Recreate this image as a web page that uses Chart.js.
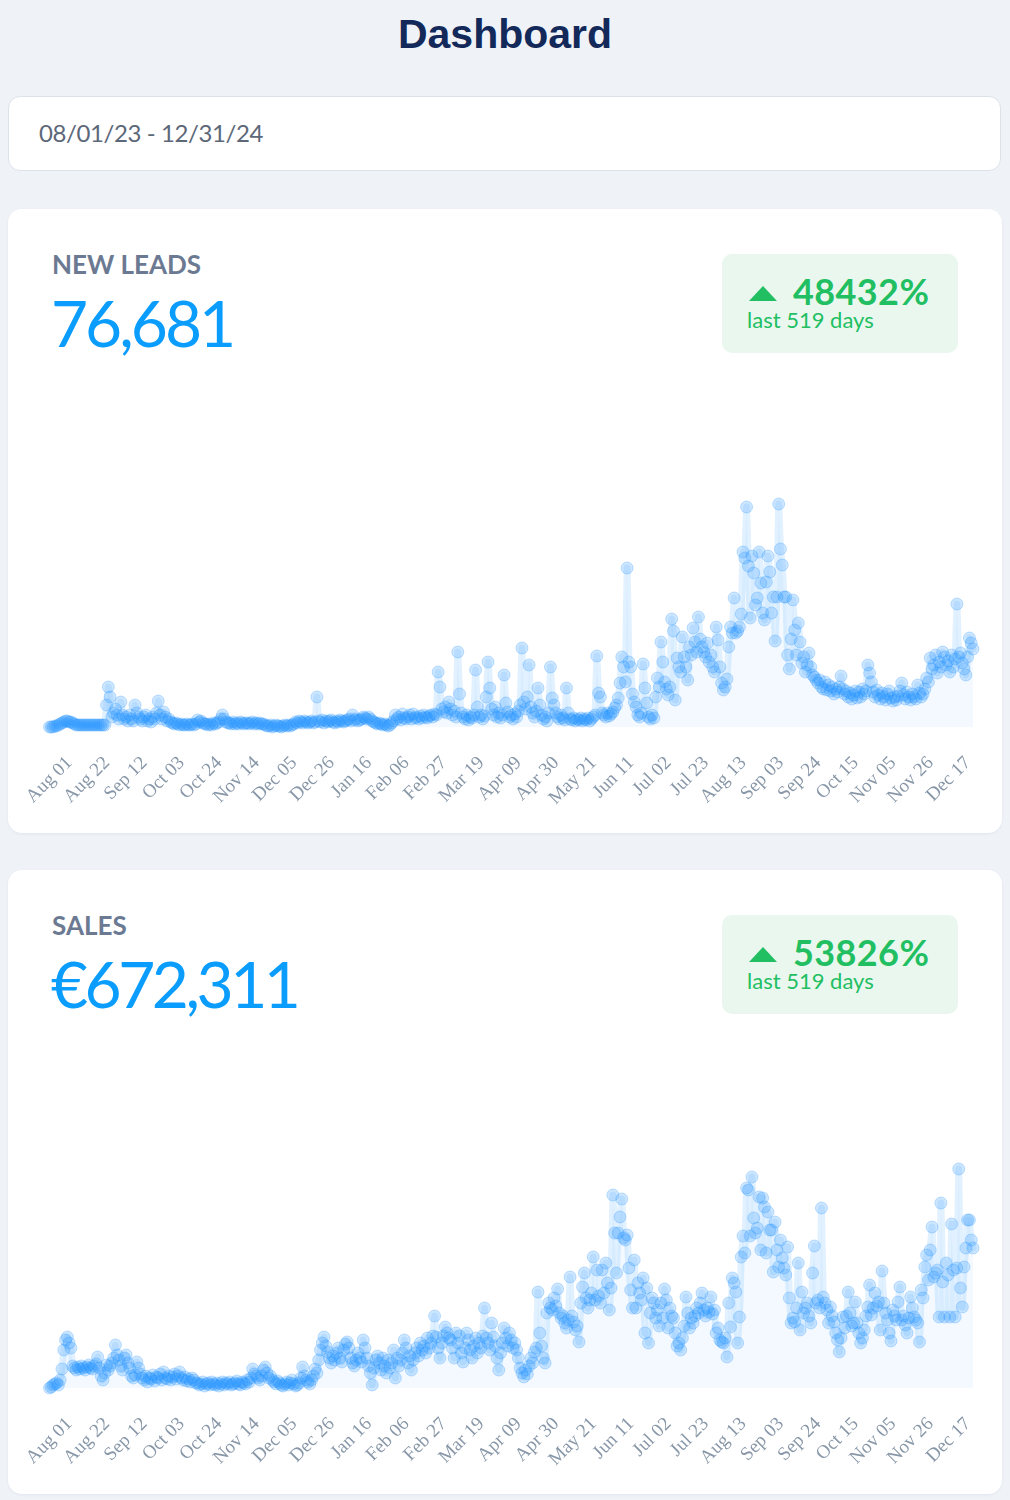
<!DOCTYPE html>
<html>
<head>
<meta charset="utf-8">
<script src="https://cdn.jsdelivr.net/npm/chart.js@4.4.0/dist/chart.umd.min.js"></script>
<style>
  body { margin:0; width:1010px; height:1500px; background:#eff3f8; position:relative; overflow:hidden; font-family:Lato, "Open Sans", sans-serif; }
  h1 { position:absolute; left:0; top:14px; width:1010px; margin:0; text-align:center; font:bold 41px/41px "Liberation Sans", Arial, sans-serif; color:#13295a; }
  .range { position:absolute; left:8px; top:96px; width:991px; height:73px; background:#fff; border:1px solid #dde2ea; border-radius:12px; }
  .range span { position:absolute; left:30px; top:24px; font-size:24px; line-height:24px; color:#5c6879; letter-spacing:-0.4px; }
  .card { position:absolute; left:8px; width:994px; height:624px; background:#fff; border-radius:14px; box-shadow:0 1px 3px rgba(20,40,80,0.06); }
  .card .title { position:absolute; left:44px; top:42px; font-size:26px; line-height:26px; font-weight:700; color:#6b7a92; }
  .card .kpi { position:absolute; left:43px; top:82px; font-size:64px; line-height:64px; color:#0b9dfd; letter-spacing:-3px; }
  .badge { position:absolute; left:714px; top:45px; width:236px; height:99px; background:#eaf7ef; border-radius:10px; color:#21bf62; }
  .badge .tri { position:absolute; left:27px; top:32px; width:0; height:0; border-left:14px solid transparent; border-right:14px solid transparent; border-bottom:15px solid #21bf62; }
  .badge .pct { position:absolute; left:71px; top:19px; font-size:36px; line-height:36px; font-weight:700; letter-spacing:0.4px; }
  .badge .sub { position:absolute; left:25px; top:55px; font-size:22px; line-height:22px; }
  .card canvas { position:absolute; left:0; top:250px; }
</style>
</head>
<body>
<h1>Dashboard</h1>
<div class="range"><span>08/01/23 - 12/31/24</span></div>

<div class="card" style="top:209px">
  <div class="title">NEW LEADS</div>
  <div class="kpi">76,681</div>
  <div class="badge"><div class="tri"></div><div class="pct">48432%</div><div class="sub">last 519 days</div></div>
  <canvas id="leadsChart" width="994" height="368"></canvas>
</div>

<div class="card" style="top:870px">
  <div class="title">SALES</div>
  <div class="kpi" style="letter-spacing:-3.5px">€672,311</div>
  <div class="badge"><div class="tri"></div><div class="pct">53826%</div><div class="sub">last 519 days</div></div>
  <canvas id="salesChart" width="994" height="368"></canvas>
</div>

<script>
const MONTHS = ['Jan','Feb','Mar','Apr','May','Jun','Jul','Aug','Sep','Oct','Nov','Dec'];
const startDay = [2023, 7, 1]; // Aug 01 2023
const dayCount = 519;
const tickEvery = 21;
const yMax = 247;

// daily new leads (hidden axis units)
const leads = [
  0,0,0,1,1,2,3,4,5,6,
  6,5,5,4,3,2,2,2,2,2,
  2,2,2,2,2,2,2,2,2,2,
  2,2,22,40,30,10,14,18,12,8,
  25,12,8,10,6,12,8,6,22,14,
  10,8,6,10,12,6,8,5,10,8,
  14,26,12,8,15,10,6,8,5,4,
  3,4,3,2,3,2,2,3,2,2,
  3,2,3,7,5,6,4,3,3,2,
  3,2,4,3,4,5,8,12,8,5,
  4,4,3,5,3,4,3,5,4,3,
  4,4,3,4,5,3,4,3,4,3,
  3,2,1,1,2,0,1,2,1,1,
  0,1,2,1,2,1,2,3,5,4,
  6,5,4,6,5,4,5,6,4,5,
  30,6,5,7,4,6,5,6,7,5,
  4,6,5,7,6,5,6,7,8,6,
  12,7,8,6,7,8,10,9,8,10,
  8,6,5,4,3,4,3,2,3,2,
  1,2,4,6,12,8,10,7,13,9,
  8,10,12,8,13,9,10,8,11,9,
  12,10,9,11,12,10,13,12,55,40,
  18,15,20,14,25,18,12,16,10,75,
  33,14,10,8,12,7,10,9,12,57,
  20,10,12,8,11,30,65,39,18,12,
  20,10,14,9,12,52,24,15,10,12,
  8,13,10,16,22,79,25,18,30,62,
  20,14,10,16,39,22,12,8,10,6,
  14,60,29,22,14,10,8,12,9,7,
  39,14,8,7,9,6,8,7,9,6,
  8,7,9,6,8,10,12,71,34,30,
  14,12,10,14,11,13,15,19,22,29,
  44,70,60,45,159,65,60,33,25,20,
  12,10,14,63,39,24,10,8,12,9,
  30,49,40,85,65,45,38,32,40,108,
  96,27,69,60,55,90,70,60,47,80,
  72,99,85,75,110,88,80,75,70,84,
  65,72,60,55,100,87,60,44,37,40,
  48,80,100,94,129,94,96,100,113,175,
  169,220,161,109,171,154,122,129,175,144,
  114,107,145,171,155,114,130,86,130,223,
  178,162,130,130,72,58,88,127,97,72,
  104,85,64,70,55,62,74,60,52,50,
  47,44,47,40,38,45,37,42,36,40,
  33,38,35,40,51,38,33,36,30,34,
  28,32,36,29,35,30,38,33,36,62,
  54,45,35,30,37,32,28,34,30,27,
  33,36,29,26,30,27,31,36,44,32,
  28,35,30,27,33,30,28,42,34,30,
  33,38,49,45,69,58,62,72,54,65,
  60,75,70,62,66,55,72,60,68,123,
  70,74,64,58,52,70,89,84,78
];

// daily sales (hidden axis units)
const sales = [
  0,1,3,4,5,3,8,19,38,48,
  51,45,40,22,20,18,21,19,22,20,
  18,21,23,20,19,22,24,31,20,12,
  8,15,23,18,22,25,30,43,33,28,
  22,18,30,33,25,20,12,10,13,26,
  20,14,10,8,12,6,10,9,13,7,
  11,10,14,8,16,10,9,12,8,11,
  14,9,12,16,10,8,11,7,9,6,
  10,8,5,5,3,4,6,2,4,5,
  3,6,4,3,5,2,4,6,3,5,
  4,6,3,4,5,7,4,3,6,5,
  4,8,6,10,19,14,12,10,8,12,
  18,21,15,10,12,8,6,4,7,5,
  3,2,4,6,3,5,8,4,2,3,
  5,10,21,12,8,6,4,8,12,19,
  15,28,38,45,51,42,36,30,25,32,
  28,35,40,30,26,38,44,46,40,30,
  25,22,28,35,30,26,48,40,30,22,
  15,3,20,28,32,25,18,30,22,15,
  28,20,25,38,10,30,22,28,35,48,
  40,25,32,18,28,35,40,32,45,38,
  42,35,50,40,45,52,72,51,40,30,
  45,52,61,55,50,48,40,30,55,45,
  52,35,26,40,55,48,38,30,42,50,
  35,45,40,52,80,50,45,38,65,51,
  42,30,18,35,45,60,50,42,55,48,
  40,45,38,30,20,15,11,18,14,22,
  30,25,36,40,96,55,42,30,25,75,
  85,80,78,90,82,99,75,70,72,65,
  60,68,111,72,66,58,62,46,85,101,
  115,90,80,88,95,131,88,118,92,85,
  118,95,125,105,78,100,193,155,115,155,
  171,189,150,148,153,120,98,80,128,80,
  105,95,88,110,55,100,45,75,90,85,
  70,78,62,85,70,99,88,60,80,72,
  70,55,42,45,38,50,62,91,75,60,
  70,65,72,80,75,85,95,78,72,80,
  76,91,74,78,55,60,48,46,45,50,
  31,85,61,110,105,96,45,71,131,152,
  135,200,198,152,211,170,155,160,191,138,
  190,181,135,176,158,158,116,166,138,121,
  148,130,120,113,141,90,65,70,66,80,
  125,58,96,75,80,85,72,65,115,142,
  85,88,80,180,91,85,78,65,81,72,
  66,55,48,36,50,71,60,72,96,75,
  62,65,86,65,55,45,50,58,72,81,
  103,73,80,95,82,86,58,117,85,75,
  68,55,47,78,72,68,86,101,68,72,
  63,55,70,91,80,71,68,65,46,98,
  90,121,133,108,138,161,111,115,118,71,
  185,106,71,125,113,71,164,118,71,120,
  219,100,81,121,140,168,168,148,140
];

// one label per day, "Aug 01" style
const labels = [];
for (let i = 0; i < dayCount; i++) {
  const d = new Date(Date.UTC(startDay[0], startDay[1], startDay[2] + i));
  labels.push(MONTHS[d.getUTCMonth()] + ' ' + String(d.getUTCDate()).padStart(2, '0'));
}

function makeChart(id, values) {
  return new Chart(document.getElementById(id), {
    type: 'line',
    data: {
      labels,
      datasets: [{
        data: values,
        borderColor: 'rgba(30,144,255,0.13)',
        borderWidth: 7,
        borderJoinStyle: 'round',
        borderCapStyle: 'round',
        backgroundColor: 'rgba(30,144,255,0.05)',
        fill: 'origin',
        tension: 0,
        pointRadius: 6,
        pointBackgroundColor: 'rgba(30,144,255,0.22)',
        pointBorderColor: 'rgba(30,144,255,0.26)',
        pointBorderWidth: 1,
        clip: false
      }]
    },
    options: {
      responsive: false,
      animation: false,
      events: [],
      layout: { padding: { left: 41.5, right: 29, top: 21, bottom: 0 } },
      plugins: { legend: { display: false }, tooltip: { enabled: false } },
      scales: {
        x: {
          grid: { display: false, drawTicks: false },
          border: { display: false },
          ticks: {
            autoSkip: false, minRotation: 45, maxRotation: 45,
            padding: 25, labelOffset: 20,
            color: '#8897a8',
            font: { family: '"Liberation Serif", "Times New Roman", serif', size: 19 },
            callback: (v, i) => (i % tickEvery === 0 ? labels[i] : null)
          },
          afterFit: (s) => { s.height = 100; s.paddingLeft = 0; s.paddingRight = 0; }
        },
        y: { display: false, min: 0, max: yMax }
      }
    }
  });
}

makeChart('leadsChart', leads);
makeChart('salesChart', sales);
</script>
</body>
</html>
